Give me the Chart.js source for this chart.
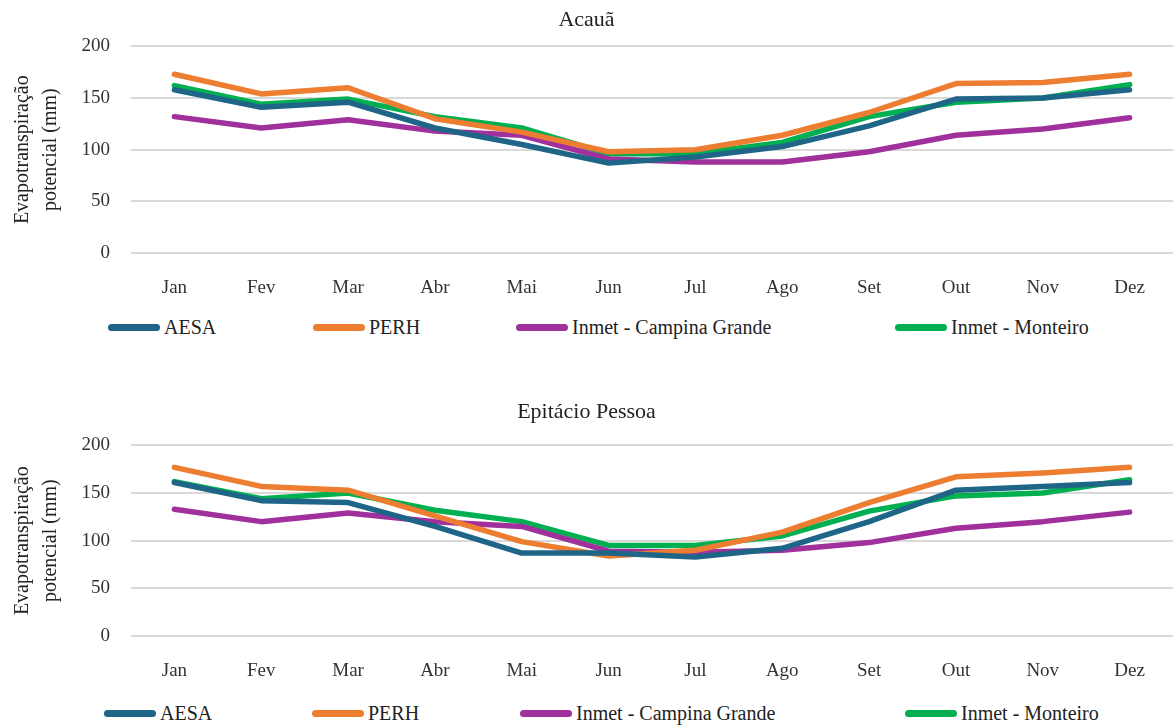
<!DOCTYPE html>
<html>
<head>
<meta charset="utf-8">
<script src="https://cdn.jsdelivr.net/npm/chart.js@4"></script>
<style>
  body { margin: 0; background: #fff; width: 1176px; height: 727px; position: relative; overflow: hidden; }
  canvas { position: absolute; left: 0; }
  .legend { position: absolute; left: 0; width: 1176px; height: 24px;
            font-family: "Liberation Serif", "Times New Roman", "Liberation Sans", serif; font-size: 20px; color: #222; }
  .legend .item { position: absolute; top: 0; height: 24px; display: flex; align-items: center; white-space: nowrap; }
  .legend .swatch { width: 52px; height: 7px; border-radius: 4px; margin-right: 4px; }
</style>
</head>
<body>
<canvas id="acaua-chart" width="1176" height="300" style="top:0"></canvas>
<div class="legend" id="acaua-legend" style="top:315px"></div>
<canvas id="epitacio-chart" width="1176" height="305" style="top:385px"></canvas>
<div class="legend" id="epitacio-legend" style="top:701px"></div>
<script>
// months and series
const months = ["Jan", "Fev", "Mar", "Abr", "Mai", "Jun", "Jul", "Ago", "Set", "Out", "Nov", "Dez"];
const seriesNames = ["AESA", "PERH", "Inmet - Campina Grande", "Inmet - Monteiro"];
const seriesColors = ["#1f6587", "#ed7d31", "#a0309c", "#00b050"];
const yTicks = [0, 50, 100, 150, 200];

// Acauã
const acauaAESA = [158, 141, 146, 121, 105, 87, 93, 103, 123, 149, 150, 158];
const acauaPERH = [173, 154, 160, 130, 117, 98, 100, 114, 136, 164, 165, 173];
const acauaCG = [132, 121, 129, 118, 114, 91, 88, 88, 98, 114, 120, 131];
const acauaMonteiro = [162, 144, 149, 132, 121, 96, 96, 107, 132, 146, 150, 163];

// Epitácio Pessoa
const epitacioAESA = [161, 142, 140, 115, 87, 87, 83, 92, 120, 153, 157, 161];
const epitacioPERH = [177, 157, 153, 126, 99, 84, 90, 109, 140, 167, 171, 177];
const epitacioCG = [133, 120, 129, 120, 115, 89, 88, 90, 98, 113, 120, 130];
const epitacioMonteiro = [162, 144, 150, 132, 120, 95, 95, 105, 131, 147, 150, 164];

const serif = "'Liberation Serif', 'Times New Roman', 'Liberation Sans', serif";

function makeChart(canvasId, legendId, title, values, titlePad, xHeight, legendX) {
  const datasets = values.map((data, i) => ({
    label: seriesNames[i],
    data: data,
    borderColor: seriesColors[i],
    backgroundColor: seriesColors[i],
    borderWidth: 5.5,
    borderCapStyle: "round",
    borderJoinStyle: "round",
    pointRadius: 0,
    tension: 0,
  }));

  new Chart(document.getElementById(canvasId), {
    type: "line",
    data: { labels: months, datasets: datasets },
    options: {
      responsive: false,
      animation: false,
      layout: { padding: { left: 0, right: 3, top: 0, bottom: 0 } },
      plugins: {
        legend: { display: false },
        tooltip: { enabled: false },
        title: {
          display: true,
          text: title,
          color: "#222",
          font: { family: serif, size: 22, weight: "normal" },
          padding: titlePad,
        },
      },
      scales: {
        x: {
          offset: true,
          grid: { display: false },
          border: { display: false },
          ticks: { color: "#333", font: { family: serif, size: 19 }, padding: 16 },
          afterFit: (scale) => { scale.height = xHeight; },
        },
        y: {
          min: 0,
          max: 200,
          afterBuildTicks: (scale) => { scale.ticks = yTicks.map((v) => ({ value: v })); },
          grid: { color: "#d9d9d9", lineWidth: 2, drawTicks: false },
          border: { display: false },
          ticks: { color: "#333", font: { family: serif, size: 19 }, padding: 21 },
          title: {
            display: true,
            text: ["Evapotranspiração", "potencial (mm)"],
            color: "#222",
            font: { family: serif, size: 20, lineHeight: 1.4 },
            padding: { top: 9, bottom: 0 },
          },
          afterFit: (scale) => { scale.width = 131; },
        },
      },
    },
  });

  // legend
  const legend = document.getElementById(legendId);
  datasets.forEach((ds, i) => {
    const item = document.createElement("div");
    item.className = "item";
    item.style.left = legendX[i] + "px";
    const sw = document.createElement("span");
    sw.className = "swatch";
    sw.style.background = ds.borderColor;
    const txt = document.createElement("span");
    txt.textContent = ds.label;
    item.appendChild(sw);
    item.appendChild(txt);
    legend.appendChild(item);
  });
}

makeChart("acaua-chart", "acaua-legend", "Acauã",
  [acauaAESA, acauaPERH, acauaCG, acauaMonteiro], { top: 7, bottom: 13 }, 47, [108, 313, 516, 895]);
makeChart("epitacio-chart", "epitacio-legend", "Epitácio Pessoa",
  [epitacioAESA, epitacioPERH, epitacioCG, epitacioMonteiro], { top: 14, bottom: 20 }, 54, [104, 312, 520, 905]);
</script>
</body>
</html>
